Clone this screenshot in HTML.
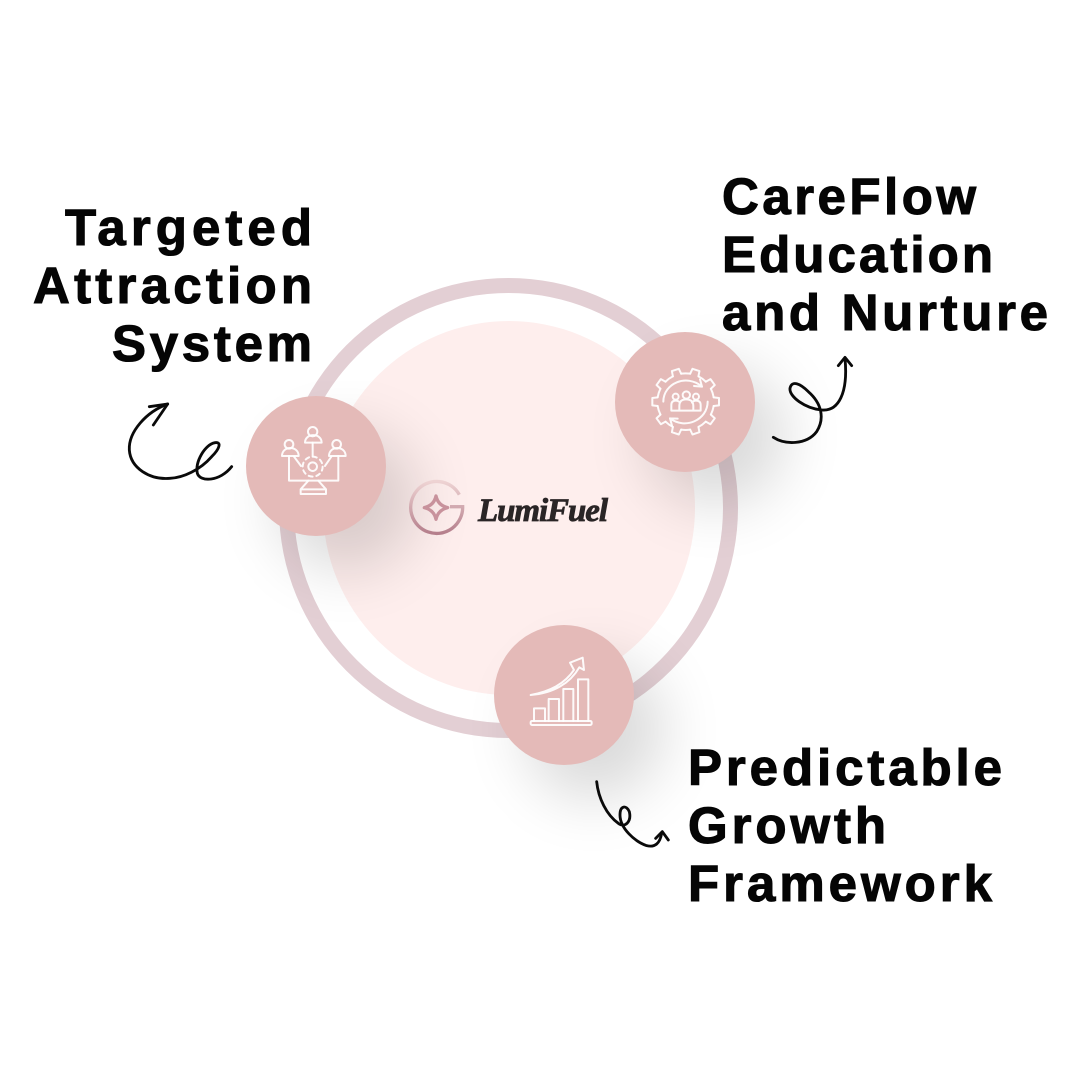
<!DOCTYPE html>
<html><head><meta charset="utf-8"><style>
html,body{margin:0;padding:0;background:#fff}
#p{position:relative;width:1080px;height:1080px;overflow:hidden;background:#fff}
.a{position:absolute;border-radius:50%;box-sizing:border-box}
.c{width:140px;height:140px;background:#e4bab8;box-shadow:30px 34px 60px rgba(0,0,0,.15)}
svg{position:absolute;left:0;top:0}
text{font-family:"Liberation Sans",sans-serif;font-weight:700;font-size:51px;fill:#050505;stroke:#050505;stroke-width:1.1}
.s{fill:none;stroke:#fff;stroke-width:6;stroke-linecap:round;stroke-linejoin:round;stroke-opacity:.92}
.k{fill:none;stroke:#0a0a0a;stroke-width:8.5;stroke-linecap:round;stroke-linejoin:round}
</style></head><body><div id="p">
<div class="a" style="left:279px;top:278px;width:459px;height:460px;border:15px solid #e3cfd4"></div>
<div class="a" style="left:323px;top:321px;width:372px;height:374px;background:#feeeed"></div>
<div class="a c" style="left:246px;top:396px"></div>
<div class="a c" style="left:615px;top:332px"></div>
<div class="a c" style="left:494px;top:625px"></div>
<svg width="1080" height="1080" viewBox="0 0 1080 1080">
<defs><linearGradient id="g" x1="0" y1="0" x2="0" y2="1"><stop offset="0" stop-color="#eed3d3"/><stop offset="1" stop-color="#b57f8c"/></linearGradient></defs>
<text x="65" y="245" textLength="247">Targeted</text>
<text x="33" y="303" textLength="279">Attraction</text>
<text x="112" y="361" textLength="200">System</text>
<text x="722" y="214" textLength="254">CareFlow</text>
<text x="722" y="272" textLength="271">Education</text>
<text x="722" y="330" textLength="326">and Nurture</text>
<text x="688" y="785" textLength="314">Predictable</text>
<text x="688" y="843" textLength="198">Growth</text>
<text x="688" y="901" textLength="304">Framework</text>
<text x="478" y="521" textLength="130" style="font-family:'Liberation Serif',serif;font-style:italic;font-size:33px;fill:#2a2526;stroke:#2a2526;stroke-width:.8">LumiFuel</text>

<!-- logo -->
<g transform="translate(400,470) scale(.3333)">
<path d="M178 74A78 78 0 1 0 188 110H150" fill="none" stroke="url(#g)" stroke-width="10"/>
<path d="M108 78Q114 106 143 113Q114 120 108 148Q102 120 73 113Q102 106 108 78Z" fill="none" stroke="#c8929c" stroke-width="10" stroke-linejoin="round"/>
</g>

<!-- icon 1 -->
<g transform="translate(240,390) scale(.3333)" class="s">
<circle cx="218" cy="125" r="14"/><path d="M195 158c0-30 50-30 50 0z"/>
<circle cx="147" cy="163" r="13"/><path d="M126 198c0-32 50-32 50 0z"/>
<circle cx="290" cy="163" r="13"/><path d="M267 198c0-32 50-32 50 0z"/>
<path d="M218 158V200M147 198V272H295V198M183 228L162 200M255 228L274 200"/>
<circle cx="218" cy="230" r="13"/>
<circle cx="218" cy="230" r="30" stroke-dasharray="12 11.5"/>
<path d="M205 272L182 298V312H258V298L235 272M182 298H258"/>
</g>

<!-- icon 2 -->
<g transform="translate(610,330) scale(.3333)" class="s">
<g transform="translate(227,215)">
<circle r="85" pathLength="100" stroke-dasharray="5 5" stroke-dashoffset="-2.5"/>
<g id="t"><path d="M84 -13L100 -11V11L84 13"/></g>
<use href="#t" transform="rotate(36)"/><use href="#t" transform="rotate(72)"/><use href="#t" transform="rotate(108)"/><use href="#t" transform="rotate(144)"/><use href="#t" transform="rotate(180)"/><use href="#t" transform="rotate(216)"/><use href="#t" transform="rotate(252)"/><use href="#t" transform="rotate(288)"/><use href="#t" transform="rotate(324)"/>
</g>
<path d="M160 215C160 160 230 130 276 170M252 168L276 170L270 148"/>
<path d="M293 215C293 270 225 300 180 265M203 266L180 265L186 287"/>
<circle cx="197" cy="200" r="9"/><circle cx="229" cy="195" r="11"/><circle cx="258" cy="200" r="9"/>
<path d="M206 242H184V225Q184 212 197 212Q205 212 210 218M250 242H272V225Q272 212 258 212Q250 212 246 218M208 242V228Q208 208 228 208Q250 208 250 228V242Z"/>
</g>

<!-- icon 3 -->
<g transform="translate(490,620) scale(.3333)" class="s">
<rect x="122" y="303" width="183" height="12" rx="4"/>
<path d="M132 303V265H165V303M176 303V237H207V303M220 303V207H250V303M264 303V178H295V303"/>
<path d="M122 225C180 215 225 190 252 150L240 128L278 113L282 150L268 142C240 190 190 220 122 225Z"/>
</g>

<!-- arrows -->
<g transform="translate(120,395) scale(.3333)" class="k">
<path d="M143 27C80 50 25 110 28 165C32 220 90 255 150 250C190 248 240 225 275 185C300 160 305 140 285 143C255 148 225 200 232 235C240 262 300 260 335 215"/>
<path d="M88 35L143 27L100 90"/>
</g>
<g transform="translate(765,350) scale(.3333)" class="k">
<path d="M25 262C60 285 125 285 155 245C180 205 170 160 130 125C105 100 80 90 75 115C72 140 120 175 170 180C220 185 250 130 240 25"/>
<path d="M220 47L240 22L260 47"/>
</g>
<g transform="translate(590,775) scale(.3333)" class="k">
<path d="M20 20C25 70 50 120 85 145C105 160 125 140 118 110C110 90 90 90 90 120C90 160 135 200 170 212C195 218 210 205 215 175"/>
<path d="M197 190L217 170L235 195"/>
</g>
</svg>
</div></body></html>
